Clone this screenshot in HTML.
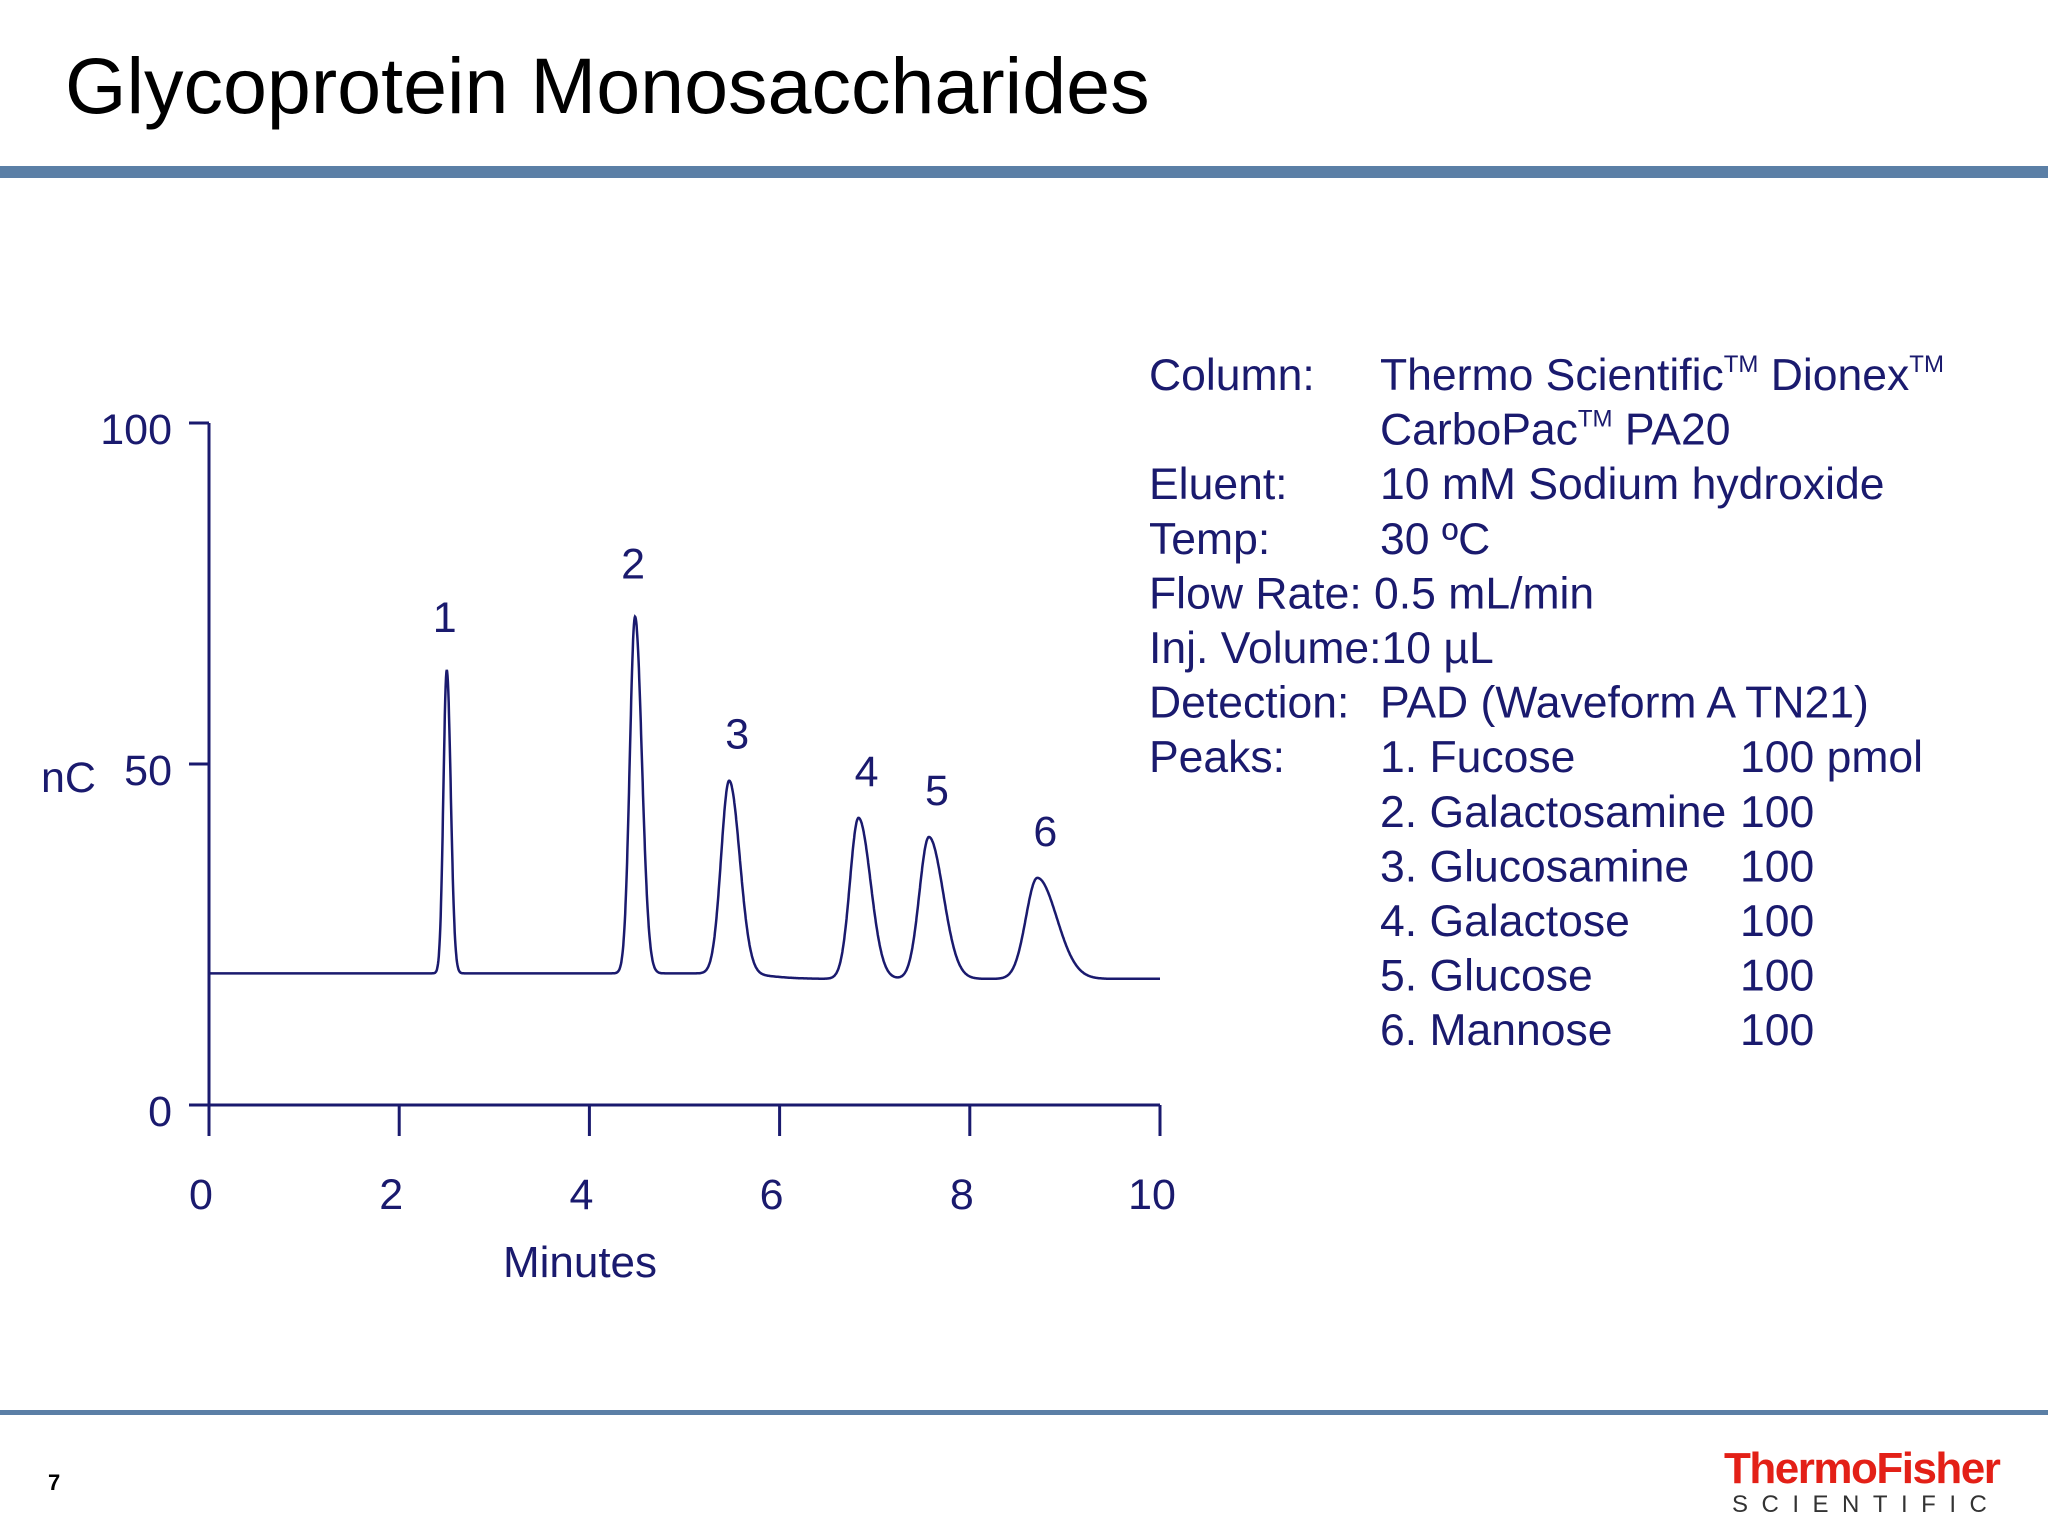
<!DOCTYPE html>
<html><head><meta charset="utf-8"><style>
html,body{margin:0;padding:0;background:#fff;}
svg{display:block;font-family:"Liberation Sans",Arial,sans-serif;}
</style></head><body>
<svg id="s" width="2048" height="1536" viewBox="0 0 2048 1536">
<text x="65" y="113" font-size="79" fill="#000">Glycoprotein Monosaccharides</text>
<rect x="0" y="166" width="2048" height="12" fill="#5b7fa6"/>
<rect x="0" y="1410" width="2048" height="5" fill="#5b7fa6"/>
<text x="48" y="1490" font-size="22" font-weight="bold" fill="#000">7</text>
<g>
<text x="1724" y="1483" font-size="44" font-weight="bold" fill="#e32017" letter-spacing="-1.5">ThermoFisher</text>
<text x="1732" y="1512" font-size="24" fill="#333" letter-spacing="13.5">SCIENTIFIC</text>
</g>
<g id="chart"></g>
<g id="info" font-size="44.5" fill="#1a1a6e"></g>
</svg>
<script>
const xTicks=[0,2,4,6,8,10];
const yTicks=[0,50,100];
const peakLabels=["1","2","3","4","5","6"];
const peakTimes=[2.50,4.48,5.47,6.83,7.57,8.71];
const peakHeights=[44.5,52.3,28.3,23.6,20.8,14.8];
const peakWidths=[0.035,0.055,0.085,0.09,0.1,0.12];
const peakTails=[1.2,1.3,1.3,1.4,1.5,1.7];
const baseStart=19.3, baseEnd=18.5;
const NS="http://www.w3.org/2000/svg";
const C="#1a1a6e";
const X0=209,X1=1160,Y0=1105,Y100=423;
const xs=v=>X0+(X1-X0)*v/10;
const ys=v=>Y0-(Y0-Y100)*v/100;
const g=document.getElementById('chart');
function mk(t,a,p){const e=document.createElementNS(NS,t);for(const k in a)e.setAttribute(k,a[k]);(p||g).appendChild(e);return e;}
let e=mk('line',{x1:X0,y1:Y100,x2:X0,y2:Y0,stroke:C,'stroke-width':3});

e=mk('line',{x1:X0,y1:Y0,x2:X1,y2:Y0,stroke:C,'stroke-width':3});

yTicks.forEach(v=>{
 let t=mk('line',{x1:189,y1:ys(v),x2:X0,y2:ys(v),stroke:C,'stroke-width':3});
 
 let l=mk('text',{x:172,y:ys(v)+21,'font-size':43,fill:C,'text-anchor':'end'});l.textContent=v;
 
});
xTicks.forEach(v=>{
 let t=mk('line',{x1:xs(v),y1:Y0,x2:xs(v),y2:1136,stroke:C,'stroke-width':3});
 
 let l=mk('text',{x:xs(v)-8,y:1209,'font-size':43,fill:C,'text-anchor':'middle'});l.textContent=v;
 
});
e=mk('text',{x:580,y:1277,'font-size':44,fill:C,'text-anchor':'middle'});e.textContent='Minutes';

e=mk('text',{x:41,y:792,'font-size':43,fill:C});e.textContent='nC';

function sig(t){
 let b=baseStart+(baseEnd-baseStart)/(1+Math.exp(-(t-5.9)/0.15));
 let v=b;
 peakTimes.forEach((pt,i)=>{const w=t<pt?peakWidths[i]:peakWidths[i]*peakTails[i];v+=peakHeights[i]*Math.exp(-0.5*((t-pt)/w)**2);});
 return v;
}
let d='';
for(let t=0;t<=10;t+=0.004){d+=(d?'L':'M')+xs(t).toFixed(1)+','+ys(sig(t)).toFixed(1);}
e=mk('path',{d:d,fill:'none',stroke:C,'stroke-width':2.5});

peakTimes.forEach((pt,i)=>{
 let l=mk('text',{x:xs(pt)+(i>1?8:-2),y:ys(sig(pt))-32-(i<2?6:0),'font-size':43,fill:C,'text-anchor':'middle'});
 l.textContent=peakLabels[i];
 
});
const rows=[["Column:","Thermo Scientific<tspan font-size='24' dy='-18'>TM</tspan><tspan dy='18'> Dionex</tspan><tspan font-size='24' dy='-18'>TM</tspan>",""],["","CarboPac<tspan font-size='24' dy='-18'>TM</tspan><tspan dy='18'> PA20</tspan>",""],["Eluent:","10 mM Sodium hydroxide",""],["Temp:","30 ºC",""],["Flow Rate: 0.5 mL/min","",""],["Inj. Volume:10 µL","",""],["Detection:","PAD (Waveform A TN21)",""],["Peaks:","1. Fucose","100 pmol"],["","2. Galactosamine","100"],["","3. Glucosamine","100"],["","4. Galactose","100"],["","5. Glucose","100"],["","6. Mannose","100"]];
const info=document.getElementById('info');
rows.forEach((r,i)=>{
 const y=390+i*54.6;
 [[1149,r[0]],[1380,r[1]],[1740,r[2]]].forEach(([x,s])=>{
  if(!s)return;
  const t=document.createElementNS(NS,'text');t.setAttribute('x',x);t.setAttribute('y',y);t.innerHTML=s;
  
  
  info.appendChild(t);
 });
});
</script>
</body></html>
